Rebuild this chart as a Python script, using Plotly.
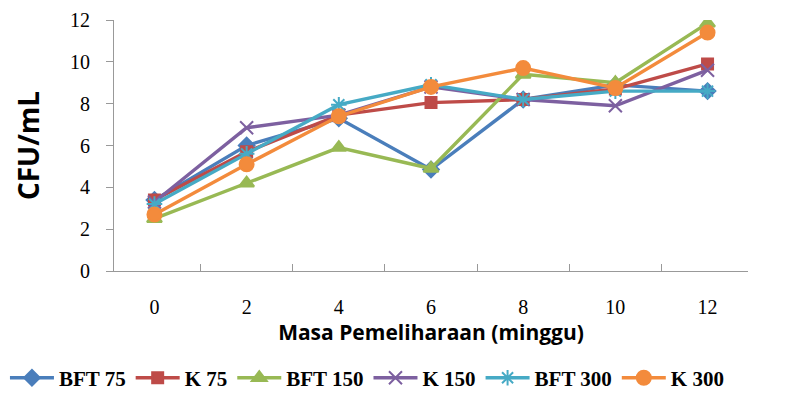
import plotly.graph_objects as go

weeks = ["0", "2", "4", "6", "8", "10", "12"]
bft75 = [3.4, 6.0, 7.3, 4.85, 8.2, 8.9, 8.6]
k75 = [3.4, 5.7, 7.45, 8.05, 8.2, 8.7, 9.9]
bft150 = [2.5, 4.2, 5.9, 4.9, 9.4, 9.0, 11.85]
k150 = [3.3, 6.85, 7.45, 8.8, 8.2, 7.9, 9.6]
bft300 = [3.2, 5.6, 7.95, 8.9, 8.2, 8.6, 8.6]
k300 = [2.7, 5.1, 7.4, 8.8, 9.7, 8.75, 11.4]

series = [
    ("BFT 75", bft75, "#4A7EBB", "diamond", 12),
    ("K 75", k75, "#BE4B48", "square", 11),
    ("BFT 150", bft150, "#98B954", "triangle-up", 13),
    ("K 150", k150, "#7D60A0", "x-thin-open", 13),
    ("BFT 300", bft300, "#46AAC5", "asterisk-open", 13),
    ("K 300", k300, "#F38B3C", "circle", 14),
]

fig = go.Figure()
for name, vals, color, sym, sz in series:
    fig.add_trace(go.Scatter(
        x=weeks, y=vals, name="<b>" + name + "</b>", mode="lines+markers",
        line=dict(color=color, width=3.4),
        marker=dict(symbol=sym, size=sz, color=color,
                    line=dict(color=color, width=2)),
    ))

fig.update_layout(
    width=790, height=394,
    margin=dict(l=114, r=42, t=20, b=123, autoexpand=False),
    plot_bgcolor="white", paper_bgcolor="white",
    showlegend=True,
    legend=dict(orientation="h", x=-0.172, xref="paper", xanchor="left",
                y=-0.345, yanchor="top",
                font=dict(family="Liberation Serif", size=21, color="black"),
                itemwidth=44, tracegroupgap=0),
    xaxis=dict(type="category", tickson="boundaries", ticks="inside", ticklen=7,
               tickcolor="#999999", showline=True, linecolor="#999999", linewidth=1,
               showgrid=False, ticklabelstandoff=18,
               tickfont=dict(family="Liberation Serif", size=20, color="black"),
               title=dict(text="<b>Masa Pemeliharaan (minggu)</b>", standoff=6,
                          font=dict(family="Open Sans", size=21, color="black"))),
    yaxis=dict(range=[0, 12], dtick=2, ticks="outside", ticklen=7,
               tickcolor="#999999", showline=True, linecolor="#999999", linewidth=1,
               showgrid=False, zeroline=False, ticklabelstandoff=12,
               tickfont=dict(family="Liberation Serif", size=20, color="black"),
               title=dict(text="<b>CFU/mL</b>", standoff=22,
                          font=dict(family="Open Sans", size=28, color="black"))),
)

fig.write_html("out.html")
